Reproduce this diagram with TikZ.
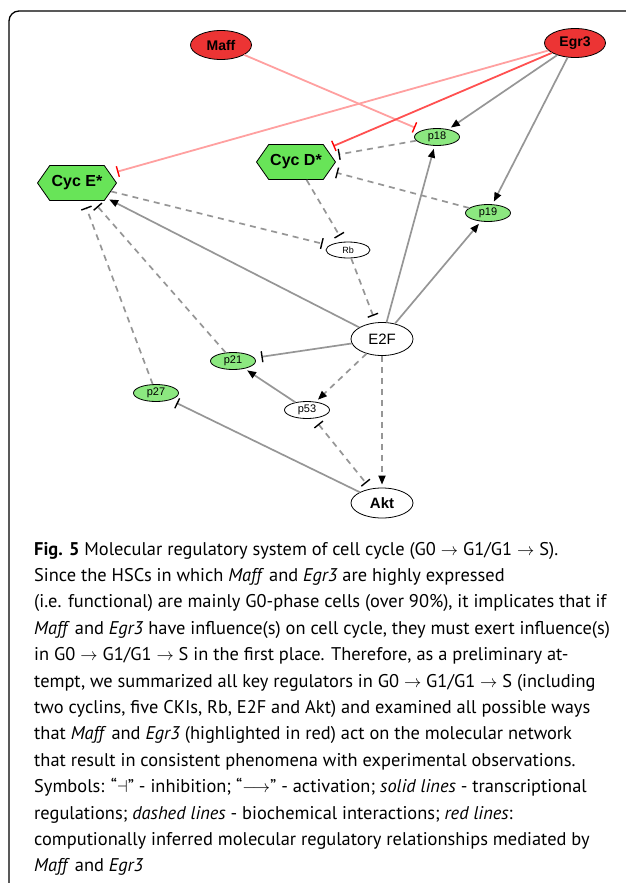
\documentclass[tikz,border=0pt]{standalone}
\usepackage{fontspec}
\setmainfont{PT Sans}
\newfontfamily\netfont{Liberation Sans}
\usetikzlibrary{arrows.meta,shapes.geometric,shapes.symbols}
\definecolor{genered}{RGB}{236,52,52}
\definecolor{ckigreen}{RGB}{140,232,128}
\definecolor{cycgreen}{RGB}{104,228,88}
\definecolor{edgegray}{RGB}{150,150,150}
\definecolor{palered}{RGB}{255,160,160}
\definecolor{infered}{RGB}{255,80,80}
\newcommand{\phasearrow}{{\fontsize{16}{16}\selectfont$\rightarrow$}}

\begin{document}
\begin{tikzpicture}[x=1pt,y=-1pt,
  gene/.style={ellipse,draw=black,line width=0.8pt,inner sep=0pt,
    font=\netfont\fontsize{11}{11}\selectfont},
  tfgene/.style={gene,fill=genered,minimum width=61pt,minimum height=29pt,
    font=\netfont\bfseries\fontsize{14}{14}\selectfont},
  cki/.style={gene,fill=ckigreen,minimum width=45pt,minimum height=17pt},
  hub/.style={gene,fill=white,minimum width=62pt,minimum height=33pt,
    font=\netfont\fontsize{15}{15}\selectfont},
  small/.style={gene,fill=white,minimum width=45pt,minimum height=17pt},
  cyclin/.style={signal,signal to=west and east,signal pointer angle=110,
    draw=black,line width=0.8pt,fill=cycgreen,inner sep=0pt,
    minimum width=79pt,minimum height=35pt,
    font=\netfont\bfseries\fontsize{16}{16}\selectfont},
  trans/.style={draw=edgegray,line width=1.7pt},
  bio/.style={trans,dash pattern=on 6pt off 5pt},
  act/.style={-{Triangle[length=9pt,width=7pt,color=black]},shorten >=3pt},
  inh/.style={-{Bar[width=11pt,line width=1.4pt,color=black]},shorten >=7pt},
  redinh/.style={-{Bar[width=11pt,line width=1.4pt,color=red]},shorten >=7pt},
  captext/.style={anchor=base west,inner sep=0pt,
    font=\fontsize{18.4}{26}\selectfont}]

\useasboundingbox (0,0) rectangle (625,883);
\draw[line width=1.3pt,rounded corners=10pt] (9,900) -- (9,11) -- (640,11);

\node[tfgene] (maff) at (221,45) {Maff};
\node[tfgene] (egr3) at (575,43) {Egr3};
\node[cyclin] (cycd) at (296,162) {Cyc D*};
\node[cyclin] (cyce) at (77,183) {Cyc E*};
\node[cki] (p18) at (437,137) {p18};
\node[cki] (p19) at (488,213) {p19};
\node[small,minimum width=44pt,minimum height=16pt,font=\netfont\fontsize{9}{9}\selectfont] (rb) at (348,250) {Rb};
\node[hub] (e2f) at (382,339) {E2F};
\node[cki] (p21) at (233,361) {p21};
\node[cki] (p27) at (156,393) {p27};
\node[small] (p53) at (307,410) {p53};
\node[hub,minimum height=30pt,font=\netfont\bfseries\fontsize{15}{15}\selectfont] (akt) at (382,503) {Akt};

\draw[line width=1.8pt,draw=palered,redinh] (maff) -- (p18);
\draw[line width=1.8pt,draw=palered,redinh] (egr3) -- (cyce);
\draw[line width=1.8pt,draw=infered,redinh] (egr3) -- (cycd);
\draw[trans,act] (egr3) -- (p18);
\draw[trans,act] (egr3) -- (p19);

\draw[bio,inh] (p18) -- (cycd);
\draw[bio,inh] (p19) -- (cycd);
\draw[bio,inh] (cycd) -- (rb);
\draw[bio,inh] (cyce) -- (rb);
\draw[bio,inh] (rb) -- (e2f);
\draw[bio,inh] (p21) -- (cyce);
\draw[bio,inh] (p27) -- (cyce);

\draw[trans,act] (e2f) -- (cyce);
\draw[trans,act] (e2f) -- (p18);
\draw[trans,act] (e2f) -- (p19);
\draw[trans,inh] (e2f) -- (p21);
\draw[bio,act] (e2f) -- (p53);
\draw[bio,act] (e2f) -- (akt);
\draw[trans,act] (p53) -- (p21);
\draw[bio,{Bar[width=11pt,line width=1.4pt,color=black]}-{Bar[width=11pt,line width=1.4pt,color=black]},
  shorten <=7pt,shorten >=7pt] (p53) -- (akt);
\draw[trans,inh] (akt) -- (p27);

\def\caplines{1/{\textbf{Fig. 5} Molecular regulatory system of cell cycle (G0 \phasearrow{} G1/G1 \phasearrow{} S).},
  2/{Since the HSCs in which \textit{Maff} and \textit{Egr3} are highly expressed},
  3/{(i.e. functional) are mainly G0-phase cells (over 90\%), it implicates that if},
  4/{\textit{Maff} and \textit{Egr3} have influence(s) on cell cycle, they must exert influence(s)},
  5/{in G0 \phasearrow{} G1/G1 \phasearrow{} S in the first place. Therefore, as a preliminary at-},
  6/{tempt, we summarized all key regulators in G0 \phasearrow{} G1/G1 \phasearrow{} S (including},
  7/{two cyclins, five CKIs, Rb, E2F and Akt) and examined all possible ways},
  8/{that \textit{Maff} and \textit{Egr3} (highlighted in red) act on the molecular network},
  9/{that result in consistent phenomena with experimental observations.},
  10/{Symbols: “$\dashv$” - inhibition; “$\longrightarrow$” - activation; \textit{solid lines} - transcriptional},
  11/{regulations; \textit{dashed lines} - biochemical interactions; \textit{red lines}:},
  12/{computionally inferred molecular regulatory relationships mediated by},
  13/{\textit{Maff} and \textit{Egr3}}}
\foreach \i / \txt in \caplines
  \node[captext] (cap\i) at (34,{555+26.4*(\i-1)}) {\txt};

\end{tikzpicture}
\end{document}
